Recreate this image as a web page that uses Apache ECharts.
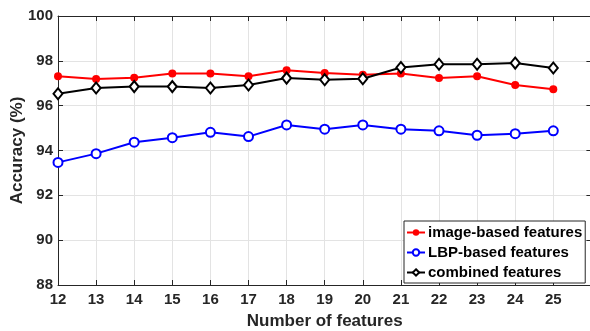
<!DOCTYPE html>
<html>
<head>
<meta charset="utf-8">
<script src="https://cdn.jsdelivr.net/npm/echarts@6/dist/echarts.min.js"></script>
<style>
html,body{margin:0;padding:0;background:#fff;}
#chart{width:590px;height:331px;}
</style>
</head>
<body>
<div id="chart"></div>
<script>
const features = [12,13,14,15,16,17,18,19,20,21,22,23,24,25];
const imageBased = [97.31,97.19,97.25,97.44,97.44,97.31,97.58,97.46,97.38,97.43,97.23,97.31,96.92,96.73];
const lbpBased = [93.47,93.86,94.37,94.57,94.81,94.62,95.14,94.95,95.14,94.95,94.88,94.68,94.75,94.88];
const combined = [96.53,96.79,96.85,96.85,96.79,96.92,97.23,97.16,97.20,97.70,97.85,97.85,97.90,97.68];
const seriesNames = ['image-based features','LBP-based features','combined features'];

const font = 'Liberation Sans, Arial, Helvetica, sans-serif';
const axisColor = '#262626';
const pair = (arr) => features.map((f, i) => [f, arr[i]]);

const chart = echarts.init(document.getElementById('chart'), null, {renderer:'canvas'});
chart.setOption({
  animation:false,
  backgroundColor:'#ffffff',
  grid:{left:58, top:16, width:533.4, height:269, containLabel:false, outerBoundsMode:'none'},
  legend:{
    orient:'vertical', left:404, top:221,
    padding:[4,3,3,2], itemGap:5, itemWidth:18, itemHeight:8,
    borderColor:axisColor, borderWidth:1, backgroundColor:'#ffffff',
    textStyle:{fontFamily:font, fontWeight:'bold', fontSize:15, lineHeight:15, color:'#000', padding:[0,0,0,-2]},
    data:seriesNames
  },
  xAxis:[{
    type:'value', min:12, max:26, interval:1, position:'bottom',
    name:'Number of features', nameLocation:'middle', nameGap:28, nameMoveOverlap:false,
    nameTextStyle:{fontFamily:font, fontWeight:'bold', fontSize:17, color:axisColor},
    axisLine:{show:true, lineStyle:{color:axisColor, width:1}},
    axisTick:{show:true, inside:true, length:5, lineStyle:{color:axisColor}},
    axisLabel:{fontFamily:font, fontWeight:'bold', fontSize:15, color:axisColor, margin:7,
      formatter:(v)=> v>25 ? '' : String(v)},
    splitLine:{show:true, lineStyle:{color:'#e3e3e3', width:1}}
  },{
    type:'value', min:12, max:26, interval:1, position:'top',
    axisLine:{show:true, lineStyle:{color:axisColor, width:1}},
    axisTick:{show:true, inside:true, length:5, lineStyle:{color:axisColor}},
    axisLabel:{show:false}, splitLine:{show:false}
  }],
  yAxis:[{
    type:'value', min:88, max:100, interval:2, position:'left',
    name:'Accuracy (%)', nameLocation:'middle', nameGap:32, nameMoveOverlap:false,
    nameTextStyle:{fontFamily:font, fontWeight:'bold', fontSize:17, color:axisColor},
    axisLine:{show:true, lineStyle:{color:axisColor, width:1}},
    axisTick:{show:true, inside:true, length:5, lineStyle:{color:axisColor}},
    axisLabel:{fontFamily:font, fontWeight:'bold', fontSize:15, color:axisColor, margin:5},
    splitLine:{show:true, lineStyle:{color:'#e3e3e3', width:1}}
  },{
    type:'value', min:88, max:100, interval:2, position:'right',
    axisLine:{show:true, lineStyle:{color:axisColor, width:1}},
    axisTick:{show:true, inside:true, length:5, lineStyle:{color:axisColor}},
    axisLabel:{show:false}, splitLine:{show:false}
  }],
  series:[{
    name:seriesNames[0], type:'line', data:pair(imageBased),
    symbol:'circle', symbolSize:8,
    lineStyle:{color:'#ff0000', width:2}, itemStyle:{color:'#ff0000'}
  },{
    name:seriesNames[1], type:'line', data:pair(lbpBased),
    symbol:'emptyCircle', symbolSize:9,
    lineStyle:{color:'#0000ff', width:2}, itemStyle:{color:'#0000ff', borderWidth:2}
  },{
    name:seriesNames[2], type:'line', data:pair(combined),
    symbol:'emptyDiamond', symbolSize:[9,11],
    lineStyle:{color:'#000000', width:2}, itemStyle:{color:'#000000', borderWidth:2}
  }]
});
</script>
</body>
</html>
